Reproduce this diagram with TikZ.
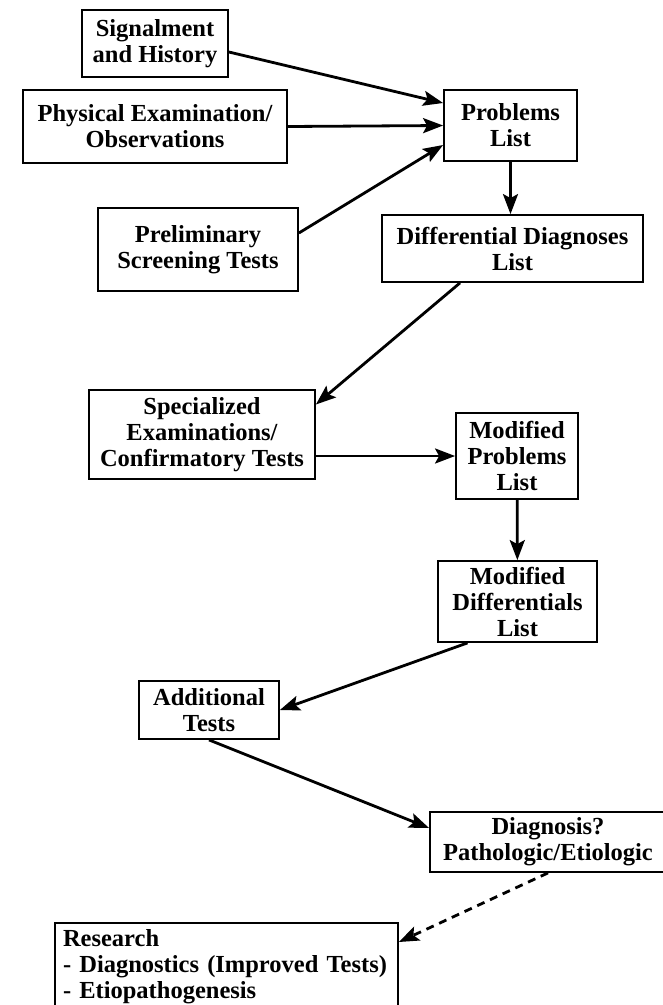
\documentclass[tikz,border=0pt]{standalone}
\usepackage{fontspec}
\setmainfont{Liberation Serif}
\usetikzlibrary{arrows.meta}

\begin{document}
\begin{tikzpicture}[x=1pt,y=-1pt]
\tikzstyle{every node}=[draw,line width=1.8pt,inner sep=0pt,align=center,
  font=\fontsize{24.5}{26}\selectfont\bfseries]
\tikzstyle{flow}=[-{Stealth[length=20pt,width=15pt,inset=4pt]},line width=2.8pt]
\useasboundingbox (0,0) rectangle (663,1005);
\clip (0,0) rectangle (663,1005);
\path
 (155,43.5)   node[minimum width=146pt,minimum height=67pt] (sig)    {Signalment\\and History}
 (155,126.5)  node[minimum width=264pt,minimum height=73pt] (phys)   {Physical Examination/\\Observations}
 (510.5,125.5) node[minimum width=133pt,minimum height=71pt] (prob)  {Problems\\List}
 (198,249.5)  node[minimum width=200pt,minimum height=83pt] (prelim) {Preliminary\\Screening Tests}
 (512.5,248.5) node[minimum width=261pt,minimum height=67pt] (diff)  {Differential Diagnoses\\List}
 (202,434.5)  node[minimum width=226pt,minimum height=89pt] (spec)   {Specialized\\Examinations/\\Confirmatory Tests}
 (517,456)    node[minimum width=122pt,minimum height=86pt] (mprob)  {Modified\\Problems\\List}
 (517.5,601.5) node[minimum width=159pt,minimum height=81pt] (mdiff) {Modified\\Differentials\\List}
 (209,710)    node[minimum width=140pt,minimum height=58pt] (add)    {Additional\\Tests}
 (548,842)    node[minimum width=236pt,minimum height=60pt] (diag)   {Diagnosis?\\Pathologic/Etiologic}
 (226.5,967)  node[text width=327pt,inner xsep=8pt,minimum height=88pt,align=left] (res)
   {Research\\- Diagnostics (Improved Tests)\\- Etiopathogenesis}
 ;
\path[flow]
 ([yshift=-8.5pt]sig.east) edge ([yshift=22.5pt]prob.west)
 (phys.east) edge (prob.west)
 ([yshift=16.5pt]prelim.east) edge ([yshift=-19.5pt]prob.west)
 (prob.south) edge (prob.south |- diff.north)
 ([xshift=-52.5pt]diff.south) edge ([yshift=30pt]spec.east)
 (spec.east |- mprob.west) edge (mprob.west)
 (mprob) edge (mdiff)
 ([xshift=-50pt]mdiff.south) edge (add.east)
 (add.south) edge ([yshift=14pt]diag.west)
 ;
\draw[flow,dash pattern=on 8pt off 6pt] (diag.south) -- ([yshift=25pt]res.east);
\end{tikzpicture}
\end{document}
